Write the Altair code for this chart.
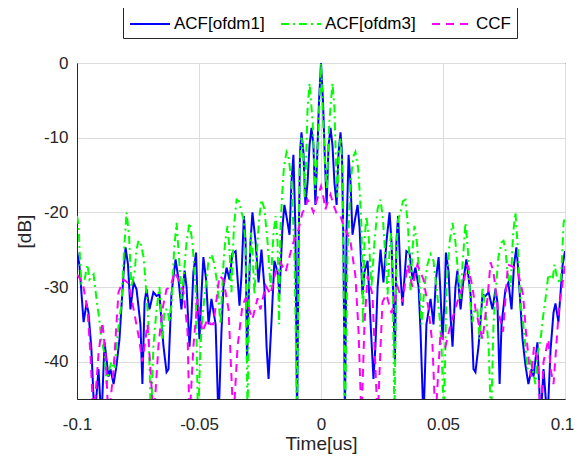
import altair as alt
import pandas as pd

SERIES = ["ACF[ofdm1]", "ACF[ofdm3]", "CCF"]
COLORS = ["#0000FF", "#00FF00", "#FF00FF"]
DASHES = [[1, 0], [8, 4, 2, 4], [8, 6]]
X_TICKS = [-0.1, -0.05, 0, 0.05, 0.1]
Y_TICKS = [-40, -30, -20, -10, 0]

# ACF[ofdm1] (blue, solid)
BLUE_T = [-0.1000, -0.0990, -0.0973, -0.0961, -0.0953, -0.0941, -0.0928, -0.0912, -0.0900, -0.0887,
          -0.0871, -0.0863, -0.0850, -0.0838, -0.0826, -0.0809, -0.0801, -0.0791, -0.0781, -0.0768,
          -0.0756, -0.0740, -0.0732, -0.0723, -0.0715, -0.0703, -0.0687, -0.0674, -0.0662, -0.0646,
          -0.0633, -0.0625, -0.0613, -0.0596, -0.0584, -0.0572, -0.0559, -0.0551, -0.0539, -0.0531,
          -0.0523, -0.0512, -0.0506, -0.0498, -0.0490, -0.0482, -0.0471, -0.0461, -0.0449, -0.0432,
          -0.0420, -0.0408, -0.0400, -0.0387, -0.0375, -0.0363, -0.0350, -0.0334, -0.0326, -0.0316,
          -0.0309, -0.0303, -0.0297, -0.0289, -0.0281, -0.0268, -0.0256, -0.0244, -0.0232, -0.0223,
          -0.0215, -0.0203, -0.0191, -0.0178, -0.0170, -0.0158, -0.0150, -0.0139, -0.0129, -0.0121,
          -0.0113, -0.0105, -0.0098, -0.0092, -0.0086, -0.0080, -0.0072, -0.0064, -0.0055, -0.0047,
          -0.0039, -0.0031, -0.0023, -0.0016, -0.0008,
          0.0,
          0.0008, 0.0016, 0.0023, 0.0031, 0.0039, 0.0047, 0.0055, 0.0064, 0.0072, 0.0080,
          0.0086, 0.0092, 0.0098, 0.0105, 0.0113, 0.0121, 0.0129, 0.0139, 0.0150, 0.0158,
          0.0170, 0.0178, 0.0191, 0.0203, 0.0215, 0.0223, 0.0232, 0.0244, 0.0256, 0.0268,
          0.0281, 0.0289, 0.0297, 0.0303, 0.0309, 0.0316, 0.0326, 0.0334, 0.0350, 0.0363,
          0.0375, 0.0387, 0.0400, 0.0408, 0.0420, 0.0432, 0.0449, 0.0461, 0.0471, 0.0482,
          0.0490, 0.0498, 0.0506, 0.0512, 0.0523, 0.0531, 0.0539, 0.0551, 0.0559, 0.0572,
          0.0584, 0.0596, 0.0613, 0.0625, 0.0633, 0.0646, 0.0662, 0.0674, 0.0687, 0.0703,
          0.0715, 0.0723, 0.0732, 0.0740, 0.0756, 0.0768, 0.0781, 0.0791, 0.0801, 0.0809,
          0.0826, 0.0838, 0.0850, 0.0863, 0.0871, 0.0887, 0.0900, 0.0912, 0.0928, 0.0941,
          0.0953, 0.0961, 0.0973, 0.0990, 0.1000]
BLUE_DB = [-25.2, -27.1, -34.7, -32.2, -33.4, -38.3, -48, -41, -48, -37.4,
           -42, -41, -43, -40.5, -37, -28, -24.7, -27, -33, -29.4,
           -30.3, -35, -43, -32, -30.3, -33, -30.7, -31.2, -31, -37.8,
           -41.4, -41, -31, -26.3, -29, -33, -27.8, -30, -38, -34,
           -28, -25.4, -32, -37, -31, -26, -29, -35, -31.6, -35,
           -48, -36, -30, -27.4, -29, -25.5, -25.2, -32.5, -28.5, -20.5,
           -24, -40, -32, -24, -20, -24, -29.4, -25, -30, -38,
           -42.3, -34.7, -26.5, -28, -31, -22, -19, -21, -23, -16,
           -12.3, -22, -48, -25, -12, -9.3, -12, -19, -16, -11,
           -8.7, -11, -19, -13, -5,
           0,
           -5, -13, -19, -11, -8.7, -11, -16, -19, -12, -9.3,
           -12, -25, -48, -22, -12.3, -16, -23, -21, -19, -22,
           -31, -28, -26.5, -34.7, -42.3, -38, -30, -25, -29.4, -24,
           -20, -24, -32, -40, -24, -20.5, -28.5, -32.5, -25.2, -25.5,
           -29, -27.4, -30, -36, -48, -35, -31.6, -35, -29, -26,
           -31, -37, -32, -25.4, -28, -34, -38, -30, -27.8, -33,
           -29, -26.3, -31, -41, -41.4, -37.8, -31, -31.2, -30.7, -33,
           -30.3, -32, -43, -35, -30.3, -29.4, -33, -27, -24.7, -28,
           -37, -40.5, -43, -41, -42, -37.4, -48, -41, -48, -38.3,
           -33.4, -32.2, -34.7, -27.1, -25.2]

# ACF[ofdm3] (green, dash-dot)
GREEN_T = [-0.1000, -0.0994, -0.0988, -0.0982, -0.0969, -0.0957, -0.0949, -0.0932, -0.0920, -0.0910,
           -0.0900, -0.0887, -0.0879, -0.0867, -0.0859, -0.0846, -0.0838, -0.0826, -0.0818, -0.0807,
           -0.0797, -0.0787, -0.0777, -0.0764, -0.0756, -0.0748, -0.0740, -0.0727, -0.0715, -0.0707,
           -0.0697, -0.0687, -0.0674, -0.0662, -0.0650, -0.0641, -0.0629, -0.0621, -0.0613, -0.0602,
           -0.0592, -0.0580, -0.0572, -0.0564, -0.0551, -0.0539, -0.0527, -0.0514, -0.0504, -0.0494,
           -0.0486, -0.0473, -0.0461, -0.0449, -0.0436, -0.0424, -0.0412, -0.0400, -0.0393, -0.0383,
           -0.0375, -0.0367, -0.0357, -0.0346, -0.0336, -0.0326, -0.0316, -0.0309, -0.0301, -0.0293,
           -0.0287, -0.0281, -0.0273, -0.0264, -0.0254, -0.0244, -0.0232, -0.0219, -0.0207, -0.0195,
           -0.0186, -0.0178, -0.0172, -0.0166, -0.0160, -0.0152, -0.0141, -0.0133, -0.0121, -0.0109,
           -0.0098, -0.0088, -0.0080, -0.0073, -0.0067, -0.0061, -0.0055, -0.0047, -0.0034, -0.0024,
           -0.0014, -0.0006,
           0.0,
           0.0006, 0.0014, 0.0024, 0.0034, 0.0047, 0.0055, 0.0061, 0.0067, 0.0073, 0.0080,
           0.0088, 0.0098, 0.0109, 0.0121, 0.0133, 0.0141, 0.0152, 0.0160, 0.0166, 0.0172,
           0.0178, 0.0186, 0.0195, 0.0207, 0.0219, 0.0232, 0.0244, 0.0254, 0.0264, 0.0273,
           0.0281, 0.0287, 0.0293, 0.0301, 0.0309, 0.0316, 0.0326, 0.0336, 0.0346, 0.0357,
           0.0367, 0.0375, 0.0383, 0.0393, 0.0400, 0.0412, 0.0424, 0.0436, 0.0449, 0.0461,
           0.0473, 0.0486, 0.0494, 0.0504, 0.0514, 0.0527, 0.0539, 0.0551, 0.0564, 0.0572,
           0.0580, 0.0592, 0.0602, 0.0613, 0.0621, 0.0629, 0.0641, 0.0650, 0.0662, 0.0674,
           0.0687, 0.0697, 0.0707, 0.0715, 0.0727, 0.0740, 0.0748, 0.0756, 0.0764, 0.0777,
           0.0787, 0.0797, 0.0807, 0.0818, 0.0826, 0.0838, 0.0846, 0.0859, 0.0867, 0.0879,
           0.0887, 0.0900, 0.0910, 0.0920, 0.0932, 0.0949, 0.0957, 0.0969, 0.0982, 0.0988,
           0.0994, 0.1000]
GREEN_DB = [-20.5, -21.5, -26, -29.5, -29, -27, -29, -28.3, -31.6, -34,
            -37, -39, -43, -41, -40, -41, -38, -34, -32.5, -25,
            -20, -23, -30, -28, -25, -23.8, -24, -26, -31, -35,
            -48, -38, -33, -30, -37, -33, -33, -34.7, -32.5, -25,
            -21.4, -27, -31.6, -29, -24, -21.4, -24, -30, -48, -38,
            -34, -30, -26.5, -25.6, -27, -30, -35, -27, -24, -21.8,
            -25, -30.7, -22, -18.3, -18.5, -20, -21, -25, -48, -27,
            -22.7, -25, -31, -26, -21, -18.3, -19.5, -24, -30, -23,
            -20.5, -24, -35, -22, -18, -14, -11.9, -12.5, -16, -25,
            -48, -14, -10, -12, -18, -13, -6, -2.7, -8, -17,
            -12, -5,
            0,
            -5, -12, -17, -8, -2.7, -6, -13, -18, -12, -10,
            -14, -48, -25, -16, -12.5, -11.9, -14, -18, -22, -35,
            -24, -20.5, -23, -30, -24, -19.5, -18.3, -21, -26, -31,
            -25, -22.7, -27, -48, -25, -21, -20, -18.5, -18.3, -22,
            -30.7, -25, -21.8, -24, -27, -35, -30, -27, -25.6, -26.5,
            -30, -34, -38, -48, -30, -24, -21.4, -24, -29, -31.6,
            -27, -21.4, -25, -32.5, -34.7, -33, -33, -37, -30, -33,
            -38, -48, -35, -31, -26, -24, -23.8, -25, -28, -30,
            -23, -20, -25, -32.5, -34, -38, -41, -40, -41, -43,
            -39, -37, -34, -31.6, -28.3, -29, -27, -29, -29.5, -26,
            -21.5, -20.5]

# CCF (magenta, dashed)
CCF_T = [-0.1000, -0.0977, -0.0957, -0.0945, -0.0932, -0.0912, -0.0896, -0.0883, -0.0871, -0.0850,
         -0.0830, -0.0809, -0.0789, -0.0768, -0.0748, -0.0732, -0.0711, -0.0699, -0.0686, -0.0666,
         -0.0650, -0.0633, -0.0617, -0.0600, -0.0584, -0.0564, -0.0547, -0.0539, -0.0523, -0.0506,
         -0.0486, -0.0465, -0.0453, -0.0441, -0.0416, -0.0400, -0.0379, -0.0359, -0.0342, -0.0322,
         -0.0309, -0.0281, -0.0260, -0.0248, -0.0227, -0.0207, -0.0186, -0.0166, -0.0145, -0.0125,
         -0.0113, -0.0092, -0.0076, -0.0064, -0.0055, -0.0043, -0.0031, -0.0014, 0.0, 0.0010,
         0.0018, 0.0031, 0.0039, 0.0051, 0.0068, 0.0080, 0.0092, 0.0109, 0.0121, 0.0141,
         0.0154, 0.0166, 0.0178, 0.0191, 0.0211, 0.0232, 0.0244, 0.0252, 0.0268, 0.0289,
         0.0314, 0.0334, 0.0355, 0.0375, 0.0395, 0.0420, 0.0441, 0.0457, 0.0469, 0.0490,
         0.0510, 0.0531, 0.0559, 0.0580, 0.0600, 0.0621, 0.0633, 0.0662, 0.0682, 0.0695,
         0.0707, 0.0725, 0.0746, 0.0766, 0.0787, 0.0807, 0.0828, 0.0840, 0.0852, 0.0861,
         0.0873, 0.0889, 0.0900, 0.0912, 0.0932, 0.0941, 0.0953, 0.0975, 0.0994, 0.1000]
CCF_DB = [-28.3, -29.4, -33, -39, -48, -39, -34.7, -39, -48, -41,
          -30.7, -29, -29.5, -33, -36.5, -40, -35, -41, -48, -37.8,
          -33, -30.3, -30, -28, -29, -30.5, -36, -48, -38, -31.6,
          -36, -34.3, -35, -35, -28.5, -29, -33, -48, -38, -32.5,
          -31.5, -34.3, -31.5, -33, -29.8, -31, -28, -26.7, -28, -25.4,
          -24, -22.3, -20, -19.5, -18.3, -19, -20, -18, -16.5, -18,
          -19.6, -18.3, -17.6, -19, -20.5, -20.5, -21.8, -23, -24, -28.5,
          -36, -48, -35, -28.5, -31, -48, -38, -32, -31, -33.5,
          -30, -32, -27, -30, -27, -29, -33, -37.8, -48, -36,
          -38, -35, -32, -30, -27, -30, -33, -37, -31.6, -26.7,
          -28, -33, -36, -27, -27.3, -28, -31, -36, -40, -42,
          -38, -40, -48, -40, -37, -41, -43, -33, -28.5, -27]

rows = []
for name, ts, vs in [(SERIES[0], BLUE_T, BLUE_DB),
                     (SERIES[1], GREEN_T, GREEN_DB),
                     (SERIES[2], CCF_T, CCF_DB)]:
    for t, v in zip(ts, vs):
        rows.append({"series": name, "t": t, "db": v})
df = pd.DataFrame(rows)

FONT = "Liberation Sans"

legend = alt.Legend(title=None, orient="none", legendX=46, legendY=-56,
                    direction="horizontal")

chart = alt.Chart(df).mark_line(strokeWidth=2, clip=True).encode(
    x=alt.X("t:Q",
            scale=alt.Scale(domain=[-0.1, 0.1], nice=False, zero=False),
            axis=alt.Axis(values=X_TICKS, title="Time[us]", labelExpr="'' + datum.value",
                          labelFlush=False, labelPadding=17, titlePadding=2,
                          labelOffset={"condition": {"test": "datum.value >= 0.099", "value": -3},
                                       "value": 0})),
    y=alt.Y("db:Q",
            scale=alt.Scale(domain=[-45, 0], nice=False, zero=False),
            axis=alt.Axis(values=Y_TICKS, title="[dB]", labelExpr="'' + datum.value",
                          labelPadding=9, titlePadding=9)),
    color=alt.Color("series:N", scale=alt.Scale(domain=SERIES, range=COLORS), legend=legend),
    strokeDash=alt.StrokeDash("series:N", scale=alt.Scale(domain=SERIES, range=DASHES), legend=legend),
).properties(
    width=488, height=336,
    autosize=alt.AutoSizeParams(type="none"),
    padding={"left": 69, "top": 55, "right": 9, "bottom": 57},
).configure_axis(
    grid=True, gridColor="#dcdcdc", gridWidth=1,
    domainColor="#262626", domainWidth=1, tickSize=0,
    labelFont=FONT, labelFontSize=17, labelColor="#262626",
    titleFont=FONT, titleFontSize=19, titleFontWeight="normal", titleColor="#262626",
).configure_view(
    stroke="#262626", strokeWidth=1,
).configure_legend(
    strokeColor="#262626", fillColor="white", padding=6,
    symbolType="M-1,0H3", symbolSize=400, symbolStrokeWidth=2,
    labelFont=FONT, labelFontSize=17, labelColor="#000000", labelOffset=23,
    columnPadding=12, labelLimit=300,
)

chart.save("out.html", embed_options={"renderer": "svg", "actions": False})
